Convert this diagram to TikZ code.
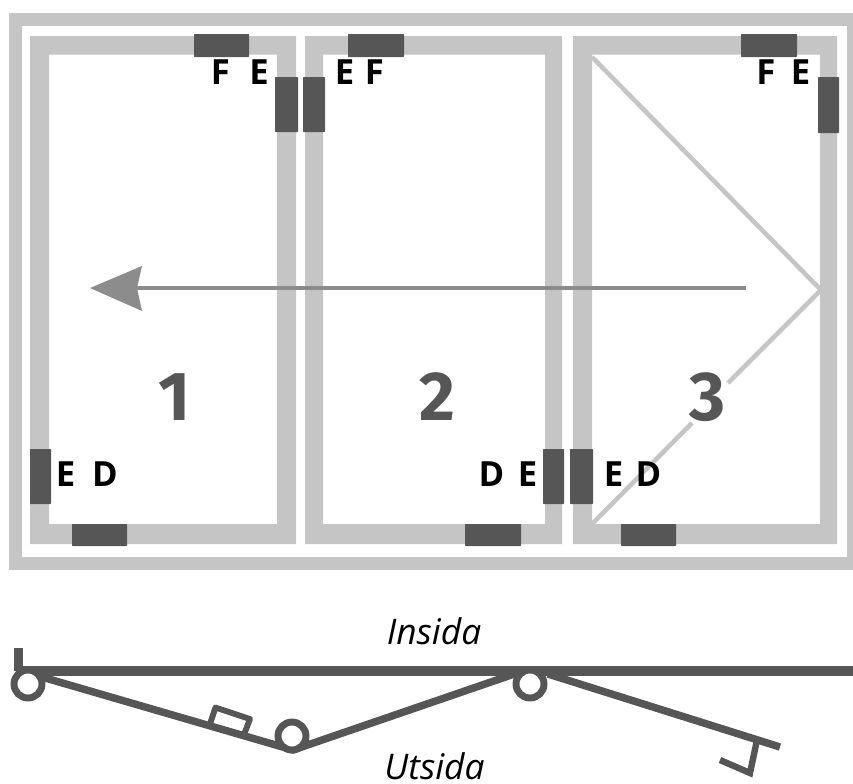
\documentclass[tikz,border=0pt]{standalone}
\usepackage{fontspec}
\setmainfont{Open Sans}
\newfontfamily\digitfont{Fira Sans}
\usetikzlibrary{arrows}

\definecolor{framegray}{RGB}{197,197,197}
\definecolor{blockgray}{RGB}{86,86,86}
\definecolor{arrowgray}{RGB}{140,140,140}

\tikzset{
  frameline/.style={fill=framegray,even odd rule},
  openline/.style={draw=framegray,line width=3.4pt},
  leafline/.style={draw=blockgray,line width=5.6pt,line join=round},
  block/.style={fill=blockgray,rounded corners=0.5pt},
  hinge/.style={circle,draw=blockgray,line width=5.2pt,fill=white,inner sep=0pt,minimum size=21pt},
  letter/.style={anchor=base,inner sep=0pt,font=\fontsize{26}{28}\selectfont\bfseries,text=black},
  side/.style={anchor=base,inner sep=0pt,font=\fontsize{26.5}{28}\selectfont\itshape,text=black},
  panelnum/.style={inner sep=0pt,font=\digitfont\fontsize{52}{54}\selectfont\bfseries,text=blockgray}
}

\begin{document}
\begin{tikzpicture}[x=0.75pt,y=0.75pt,yscale=-1,xscale=1]
  \useasboundingbox (0,0) rectangle (853,783);
  \clip (0,0) rectangle (853,783);

  %Shape: outer frame
  \draw [draw=framegray,line width=9.75pt] (15.5,19.5) rectangle (853.5,563.5);

  %Straight Lines: opening lines of panel 3
  \coordinate (toplft) at (592,57);
  \coordinate (botlft) at (592,524);
  \coordinate (apex) at (821,290);
  \coordinate (gapup) at (728,383);
  \coordinate (gapdown) at (692,423);
  \draw [openline] (toplft) -- (apex) -- (gapup);
  \draw [openline] (gapdown) -- (botlft);

  %Shape: panels
  \fill [frameline] (30,36) rectangle (296,544) (49,54.5) rectangle (277,524);
  \fill [frameline] (305,36) rectangle (562,544) (323,54.5) rectangle (545,524);
  \fill [frameline] (573,36) rectangle (837,544) (592,54.5) rectangle (820,524);

  %Straight Lines: sliding direction
  \coordinate (arrowtail) at (746,288);
  \coordinate (arrowneck) at (137,288);
  \coordinate (arrowtip) at (90,288);
  \draw [draw=arrowgray,line width=3pt] (arrowtail) -- (arrowneck);
  \fill [arrowgray] (arrowtip) -- (142,266) -- (137,288) -- (142,311) -- cycle;

  %Shape: top and side blocks
  \fill [block] (194,34) rectangle (249,57);
  \fill [block] (348,34) rectangle (404,57);
  \fill [block] (741,34) rectangle (797,57);
  \fill [block] (275,77) rectangle (298,132);
  \fill [block] (303,77) rectangle (325,132);
  \fill [block] (818,77) rectangle (839,133);
  %Shape: bottom and side blocks
  \fill [block] (30,449) rectangle (51,504);
  \fill [block] (543,449) rectangle (564,504);
  \fill [block] (570,449) rectangle (593,504);
  \fill [block] (72,524) rectangle (127,546);
  \fill [block] (465,524) rectangle (521,546);
  \fill [block] (621,524) rectangle (676,546);

  % Text Node
  \node [panelnum] (num1) at (175,397) {1};
  % Text Node
  \node [panelnum] (num2) at (437,397) {2};
  % Text Node
  \node [panelnum] (num3) at (707.5,397) {3};

  % Text Node
  \node [letter] (f1) at (220.5,84) {F};
  % Text Node
  \node [letter] (e1) at (259,84) {E};
  % Text Node
  \node [letter] (e2) at (344.5,84) {E};
  % Text Node
  \node [letter] (f2) at (374.5,84) {F};
  % Text Node
  \node [letter] (f3) at (766,84) {F};
  % Text Node
  \node [letter] (e3) at (800.5,84) {E};
  % Text Node
  \node [letter] (e4) at (65.5,486) {E};
  % Text Node
  \node [letter] (d1) at (105,486) {D};
  % Text Node
  \node [letter] (d2) at (491.5,486) {D};
  % Text Node
  \node [letter] (e5) at (527.5,486) {E};
  % Text Node
  \node [letter] (e6) at (613.5,486) {E};
  % Text Node
  \node [letter] (d3) at (648.5,486) {D};

  % Text Node
  \node [side] (inside) at (434,644) {Insida};
  % Text Node
  \node [side] (outside) at (434.5,779) {Utsida};

  %Straight Lines: section of the folded leaves
  \coordinate (walltop) at (18.5,648);
  \coordinate (wallfoot) at (18.5,671);
  \coordinate (railend) at (853,671);
  \coordinate (leafstart) at (35,675);
  \coordinate (fold) at (293,750);
  \coordinate (leafjoin) at (520,672);
  \coordinate (leafnext) at (548,674);
  \coordinate (leafend) at (780,747);
  \coordinate (stopa) at (757,740);
  \coordinate (stopb) at (750,773);
  \coordinate (stopc) at (720,760);
  \draw [draw=blockgray,line width=6.8pt] (walltop) -- (wallfoot);
  \draw [draw=blockgray,line width=7pt] (wallfoot) -- (railend);
  %Shape: handle on leaf 1
  \draw [leafline,line width=4.4pt] (210,724) -- (215.5,707.5) -- (250,719) -- (243,737);
  \draw [leafline] (leafstart) -- (fold) -- (leafjoin);
  \draw [leafline] (leafnext) -- (leafend);
  \draw [leafline,line width=4.8pt,line join=miter] (stopa) -- (stopb) -- (stopc);
  \node [hinge] (hinge1) at (28,684) {};
  \node [hinge] (hinge2) at (292,736) {};
  \node [hinge] (hinge3) at (530,684) {};
\end{tikzpicture}
\end{document}
